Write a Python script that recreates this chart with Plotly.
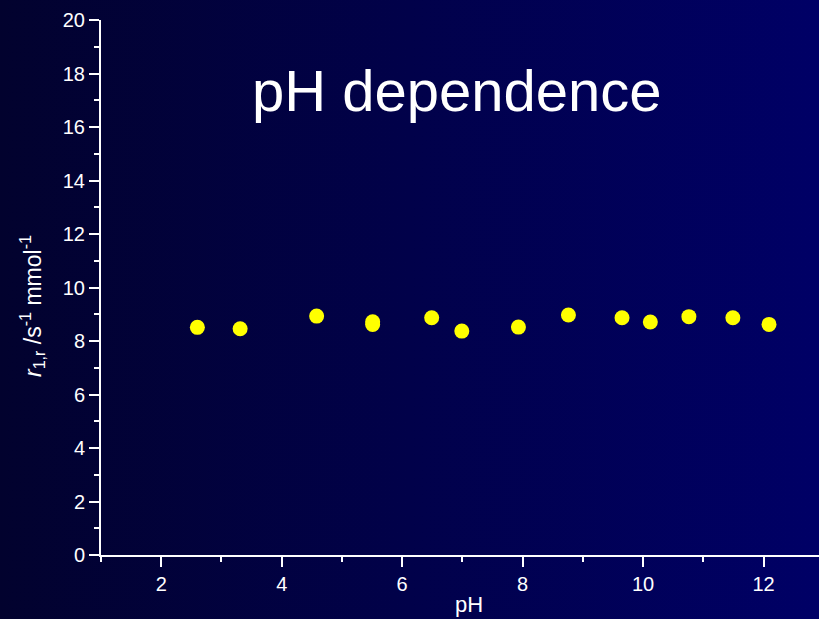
import base64
import plotly.graph_objects as go

# data
ph = [2.60, 3.31, 4.58, 5.51, 5.51, 6.49, 6.99, 7.93, 8.76, 9.65, 10.12, 10.76, 11.49, 12.09]
r1 = [8.51, 8.46, 8.93, 8.72, 8.62, 8.87, 8.37, 8.52, 8.97, 8.87, 8.71, 8.91, 8.87, 8.62]
x_ticks = [2, 4, 6, 8, 10, 12]
y_ticks = [0, 2, 4, 6, 8, 10, 12, 14, 16, 18, 20]

W, H = 819, 619
ML, MR, MT, MB = 101, 0, 20, 64
pw, ph_ = W - ML - MR, H - MT - MB

svg = ('<svg xmlns="http://www.w3.org/2000/svg" width="819" height="619">'
       '<defs><linearGradient id="g" x1="0" y1="0" x2="1" y2="0">'
       '<stop offset="0" stop-color="#02022e"/>'
       '<stop offset="1" stop-color="#000066"/>'
       '</linearGradient></defs>'
       '<rect width="819" height="619" fill="url(#g)"/></svg>')
src = "data:image/svg+xml;base64," + base64.b64encode(svg.encode()).decode()

font = "Liberation Sans, Arial, sans-serif"

fig = go.Figure()
fig.add_trace(go.Scatter(
    x=ph, y=r1, mode="markers",
    marker=dict(color="#ffff00", size=15, line=dict(width=0)),
    showlegend=False, cliponaxis=False,
))

axis_common = dict(
    showgrid=False, zeroline=False, showline=True, linecolor="white", linewidth=2,
    ticks="outside", ticklen=10, tickwidth=2, tickcolor="white",
    tickfont=dict(color="white", size=20, family=font),
    minor=dict(ticks="outside", ticklen=5, tickwidth=2, tickcolor="white", dtick=1),
)

fig.update_xaxes(range=[1, 12.92], tickvals=x_ticks, **axis_common)
fig.update_yaxes(range=[0, 20], tickvals=y_ticks, **axis_common)

fig.add_layout_image(dict(
    source=src, xref="paper", yref="paper",
    x=-ML / pw, y=1 + MT / ph_, sizex=W / pw, sizey=H / ph_,
    xanchor="left", yanchor="top", sizing="stretch", layer="below",
))

fig.add_annotation(
    text="pH dependence", xref="paper", yref="paper",
    x=(457 - ML) / pw, y=1 - (90 - MT) / ph_, xanchor="center", yanchor="middle",
    showarrow=False, font=dict(color="white", size=58, family=font),
)
fig.add_annotation(
    text="pH", xref="paper", yref="paper",
    x=(469 - ML) / pw, y=-(604 - H + MB) / ph_, xanchor="center", yanchor="middle",
    showarrow=False, font=dict(color="white", size=22, family=font),
)
fig.add_annotation(
    text="<i>r</i><sub>1,r</sub> /s<sup>-1</sup> mmol<sup>-1</sup>",
    xref="paper", yref="paper", textangle=-90,
    x=(32 - ML) / pw, y=1 - (306 - MT) / ph_, xanchor="center", yanchor="middle",
    showarrow=False, font=dict(color="white", size=23, family=font),
)

fig.update_layout(
    width=W, height=H, margin=dict(l=ML, r=MR, t=MT, b=MB),
    paper_bgcolor="#01014a", plot_bgcolor="rgba(0,0,0,0)",
)

fig.write_html("out.html")
